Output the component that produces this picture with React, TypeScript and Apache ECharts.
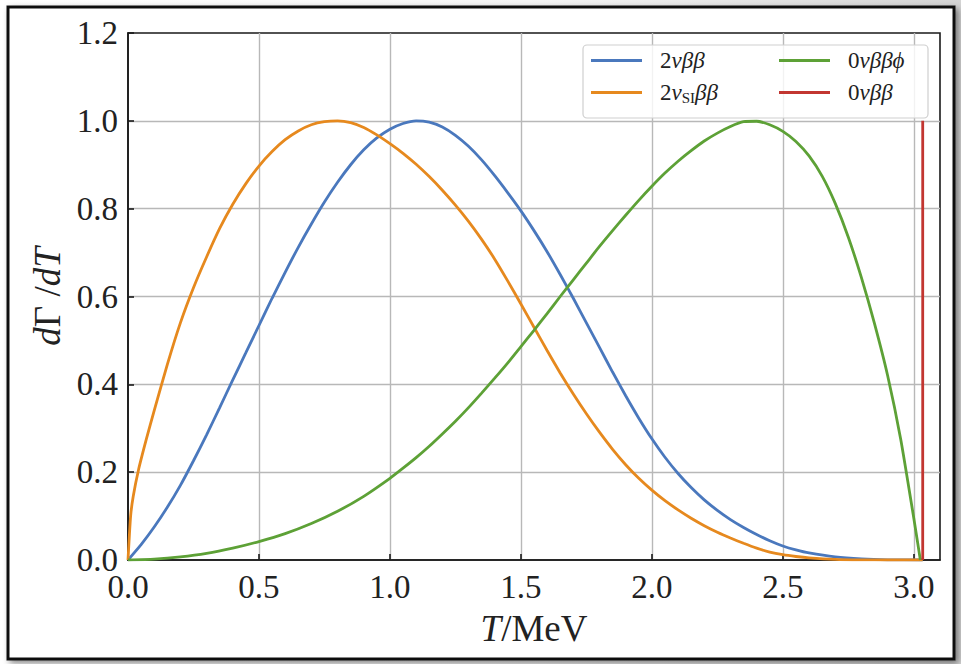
import React, { useEffect, useRef } from "react";
import * as echarts from "echarts";

// ---- data ----
const seriesNames = ["2νββ", "2νSIββ", "0νββϕ", "0νββ"];
const seriesColors = ["#4a78bd", "#e6891e", "#5da136", "#c23631"];

const twoNuT = [0, 0.05, 0.1, 0.15, 0.2, 0.25, 0.3, 0.35, 0.4, 0.45, 0.5, 0.55, 0.6, 0.65, 0.7, 0.75, 0.8, 0.85, 0.9, 0.95, 1.0, 1.05, 1.1, 1.15, 1.2, 1.25, 1.3, 1.35, 1.4, 1.45, 1.5, 1.55, 1.6, 1.65, 1.7, 1.75, 1.8, 1.85, 1.9, 1.95, 2.0, 2.05, 2.1, 2.15, 2.2, 2.25, 2.3, 2.35, 2.4, 2.45, 2.5, 2.55, 2.6, 2.7, 2.8, 2.9, 3.034];
const twoNuY = [0, 0.035, 0.075, 0.12, 0.17, 0.226, 0.285, 0.347, 0.41, 0.472, 0.534, 0.596, 0.655, 0.712, 0.765, 0.815, 0.86, 0.9, 0.934, 0.961, 0.981, 0.994, 1.0, 0.997, 0.986, 0.967, 0.942, 0.911, 0.875, 0.836, 0.795, 0.75, 0.702, 0.65, 0.596, 0.54, 0.484, 0.428, 0.374, 0.323, 0.276, 0.234, 0.197, 0.165, 0.137, 0.113, 0.092, 0.074, 0.058, 0.044, 0.032, 0.023, 0.016, 0.007, 0.0025, 0.0005, 0];

const twoNuSIT = [0, 0.01, 0.02, 0.04, 0.07, 0.1, 0.15, 0.2, 0.25, 0.3, 0.35, 0.4, 0.45, 0.5, 0.55, 0.6, 0.65, 0.7, 0.75, 0.8, 0.85, 0.9, 0.95, 1.0, 1.05, 1.1, 1.15, 1.2, 1.25, 1.3, 1.35, 1.4, 1.45, 1.5, 1.55, 1.6, 1.65, 1.7, 1.75, 1.8, 1.85, 1.9, 1.95, 2.0, 2.05, 2.1, 2.15, 2.2, 2.25, 2.3, 2.35, 2.4, 2.45, 2.5, 2.55, 2.6, 2.7, 2.8, 2.9, 3.034];
const twoNuSIY = [0, 0.1, 0.145, 0.205, 0.275, 0.34, 0.445, 0.54, 0.62, 0.69, 0.755, 0.81, 0.857, 0.897, 0.93, 0.957, 0.977, 0.991, 0.998, 1.0, 0.996, 0.985, 0.968, 0.948, 0.926, 0.901, 0.873, 0.842, 0.808, 0.771, 0.73, 0.685, 0.635, 0.583, 0.53, 0.477, 0.426, 0.378, 0.333, 0.291, 0.252, 0.217, 0.186, 0.159, 0.135, 0.114, 0.095, 0.078, 0.063, 0.05, 0.038, 0.027, 0.018, 0.012, 0.008, 0.005, 0.0015, 0.0003, 0, 0];

const zeroNuPhiT = [0, 0.1, 0.2, 0.3, 0.4, 0.5, 0.6, 0.7, 0.8, 0.9, 1.0, 1.05, 1.1, 1.15, 1.2, 1.25, 1.3, 1.35, 1.4, 1.45, 1.5, 1.55, 1.6, 1.65, 1.7, 1.75, 1.8, 1.85, 1.9, 1.95, 2.0, 2.05, 2.1, 2.15, 2.2, 2.25, 2.3, 2.35, 2.4, 2.45, 2.5, 2.55, 2.6, 2.65, 2.7, 2.75, 2.8, 2.85, 2.9, 2.95, 3.0, 3.025];
const zeroNuPhiY = [0, 0.002, 0.007, 0.015, 0.027, 0.042, 0.06, 0.083, 0.111, 0.145, 0.186, 0.209, 0.233, 0.259, 0.287, 0.316, 0.347, 0.38, 0.414, 0.449, 0.486, 0.523, 0.561, 0.6, 0.638, 0.676, 0.714, 0.75, 0.785, 0.819, 0.851, 0.881, 0.908, 0.932, 0.954, 0.972, 0.987, 0.998, 0.999, 0.991, 0.976, 0.953, 0.92, 0.874, 0.812, 0.735, 0.643, 0.538, 0.42, 0.275, 0.095, 0];

const zeroNuT = [3.034, 3.034];
const zeroNuY = [0, 1.0];

const xMin = 0;
const xMax = 3.1;
const xInterval = 0.5;
const yMin = 0;
const yMax = 1.2;
const yInterval = 0.2;

const legendLeftNames = ["2νββ", "2νSIββ"];
const legendRightNames = ["0νββϕ", "0νββ"];

const FONT = "'Liberation Serif', 'DejaVu Serif', serif";

const legendRich: Record<string, string> = {
  "2νββ": "{n|2}{i|νββ}",
  "2νSIββ": "{n|2}{i|ν}{s|SI}{i|ββ}",
  "0νββϕ": "{n|0}{i|νββϕ}",
  "0νββ": "{n|0}{i|νββ}",
};

function zip(xs: number[], ys: number[]) {
  return xs.map((x, i) => [x, ys[i]]);
}

export default function App() {
  const ref = useRef<HTMLDivElement>(null);

  useEffect(() => {
    if (!ref.current) return;
    const chart = echarts.init(ref.current, null, { renderer: "svg" });

    const legendText = {
      fontFamily: FONT,
      color: "#222",
      padding: [0, 0, 0, 13],
      rich: {
        n: { fontFamily: FONT, fontSize: 23, lineHeight: 26, color: "#222" },
        i: { fontFamily: FONT, fontSize: 23, lineHeight: 26, fontStyle: "italic", color: "#222" },
        s: { fontFamily: FONT, fontSize: 15, lineHeight: 14, color: "#222", verticalAlign: "bottom" },
      },
    };

    const baseLegend = {
      orient: "vertical",
      top: 49,
      padding: 0,
      itemGap: 9,
      itemWidth: 51,
      itemHeight: 3,
      icon: "rect",
      selectedMode: false,
      z: 10,
      formatter: (name: string) => legendRich[name] || name,
      textStyle: legendText,
    };

    const datasets = [zip(twoNuT, twoNuY), zip(twoNuSIT, twoNuSIY), zip(zeroNuPhiT, zeroNuPhiY), zip(zeroNuT, zeroNuY)];

    chart.setOption({
      animation: false,
      textStyle: { fontFamily: FONT },
      graphic: [
        {
          type: "rect",
          z: -20,
          silent: true,
          shape: { x: 0, y: 0, width: 961, height: 664 },
          style: {
            fill: new echarts.graphic.LinearGradient(0, 0, 1, 0, [
              { offset: 0, color: "#ffffff" },
              { offset: 0.55, color: "#f5f5f5" },
              { offset: 1, color: "#d4d4d4" },
            ]),
          },
        },
        {
          type: "rect",
          z: -10,
          silent: true,
          shape: { x: 8, y: 7, width: 946, height: 652 },
          style: {
            fill: "#ffffff",
            stroke: "#111111",
            lineWidth: 3,
            shadowBlur: 6,
            shadowOffsetX: 3,
            shadowOffsetY: 3,
            shadowColor: "rgba(0,0,0,0.45)",
          },
        },
        {
          type: "rect",
          z: 5,
          silent: true,
          shape: { x: 583, y: 45, width: 345, height: 73, r: 4 },
          style: { fill: "rgba(255,255,255,0.82)", stroke: "#cfcfcf", lineWidth: 1.2 },
        },
      ],
      grid: {
        left: 128,
        top: 33,
        right: 21,
        bottom: 104,
        show: true,
        borderColor: "#1a1a1a",
        borderWidth: 1.6,
        backgroundColor: "transparent",
      },
      legend: [
        { ...baseLegend, left: 591, data: legendLeftNames },
        { ...baseLegend, left: 779, data: legendRightNames },
      ],
      xAxis: {
        type: "value",
        min: xMin,
        max: xMax,
        interval: xInterval,
        name: "{i|T}{n|/MeV}",
        nameLocation: "middle",
        nameGap: 50,
        nameTextStyle: {
          rich: {
            i: { fontFamily: FONT, fontSize: 37, fontStyle: "italic", color: "#222" },
            n: { fontFamily: FONT, fontSize: 37, color: "#222" },
          },
        },
        axisLine: { show: true, lineStyle: { color: "#1a1a1a", width: 1.6 } },
        axisTick: { show: true, inside: true, length: 6, lineStyle: { color: "#1a1a1a", width: 1.6 } },
        axisLabel: {
          showMaxLabel: false,
          margin: 10,
          fontFamily: FONT,
          fontSize: 33,
          color: "#222",
          formatter: (v: number) => v.toFixed(1),
        },
        splitLine: { show: true, showMinLine: false, showMaxLine: false, lineStyle: { color: "#b8b8b8", width: 1.4 } },
      },
      yAxis: {
        type: "value",
        min: yMin,
        max: yMax,
        interval: yInterval,
        name: "{i|d}{n|Γ /}{i|dT}",
        nameLocation: "middle",
        nameGap: 52,
        nameTextStyle: {
          rich: {
            i: { fontFamily: FONT, fontSize: 37, fontStyle: "italic", color: "#222" },
            n: { fontFamily: FONT, fontSize: 37, color: "#222" },
          },
        },
        axisLine: { show: true, lineStyle: { color: "#1a1a1a", width: 1.6 } },
        axisTick: { show: true, inside: true, length: 6, lineStyle: { color: "#1a1a1a", width: 1.6 } },
        axisLabel: {
          margin: 10,
          fontFamily: FONT,
          fontSize: 33,
          color: "#222",
          formatter: (v: number) => v.toFixed(1),
        },
        splitLine: { show: true, showMinLine: false, showMaxLine: false, lineStyle: { color: "#b8b8b8", width: 1.4 } },
      },
      series: datasets.map((d, i) => ({
        name: seriesNames[i],
        type: "line",
        data: d,
        showSymbol: false,
        symbol: "none",
        smooth: i === 3 ? false : 0.2,
        clip: true,
        z: 2 + i,
        lineStyle: { color: seriesColors[i], width: 2.8 },
        itemStyle: { color: seriesColors[i] },
      })),
    });

    return () => {
      chart.dispose();
    };
  }, []);

  return (
    <div
      ref={ref}
      style={{ position: "absolute", left: 0, top: 0, width: 961, height: 664 }}
    />
  );
}
